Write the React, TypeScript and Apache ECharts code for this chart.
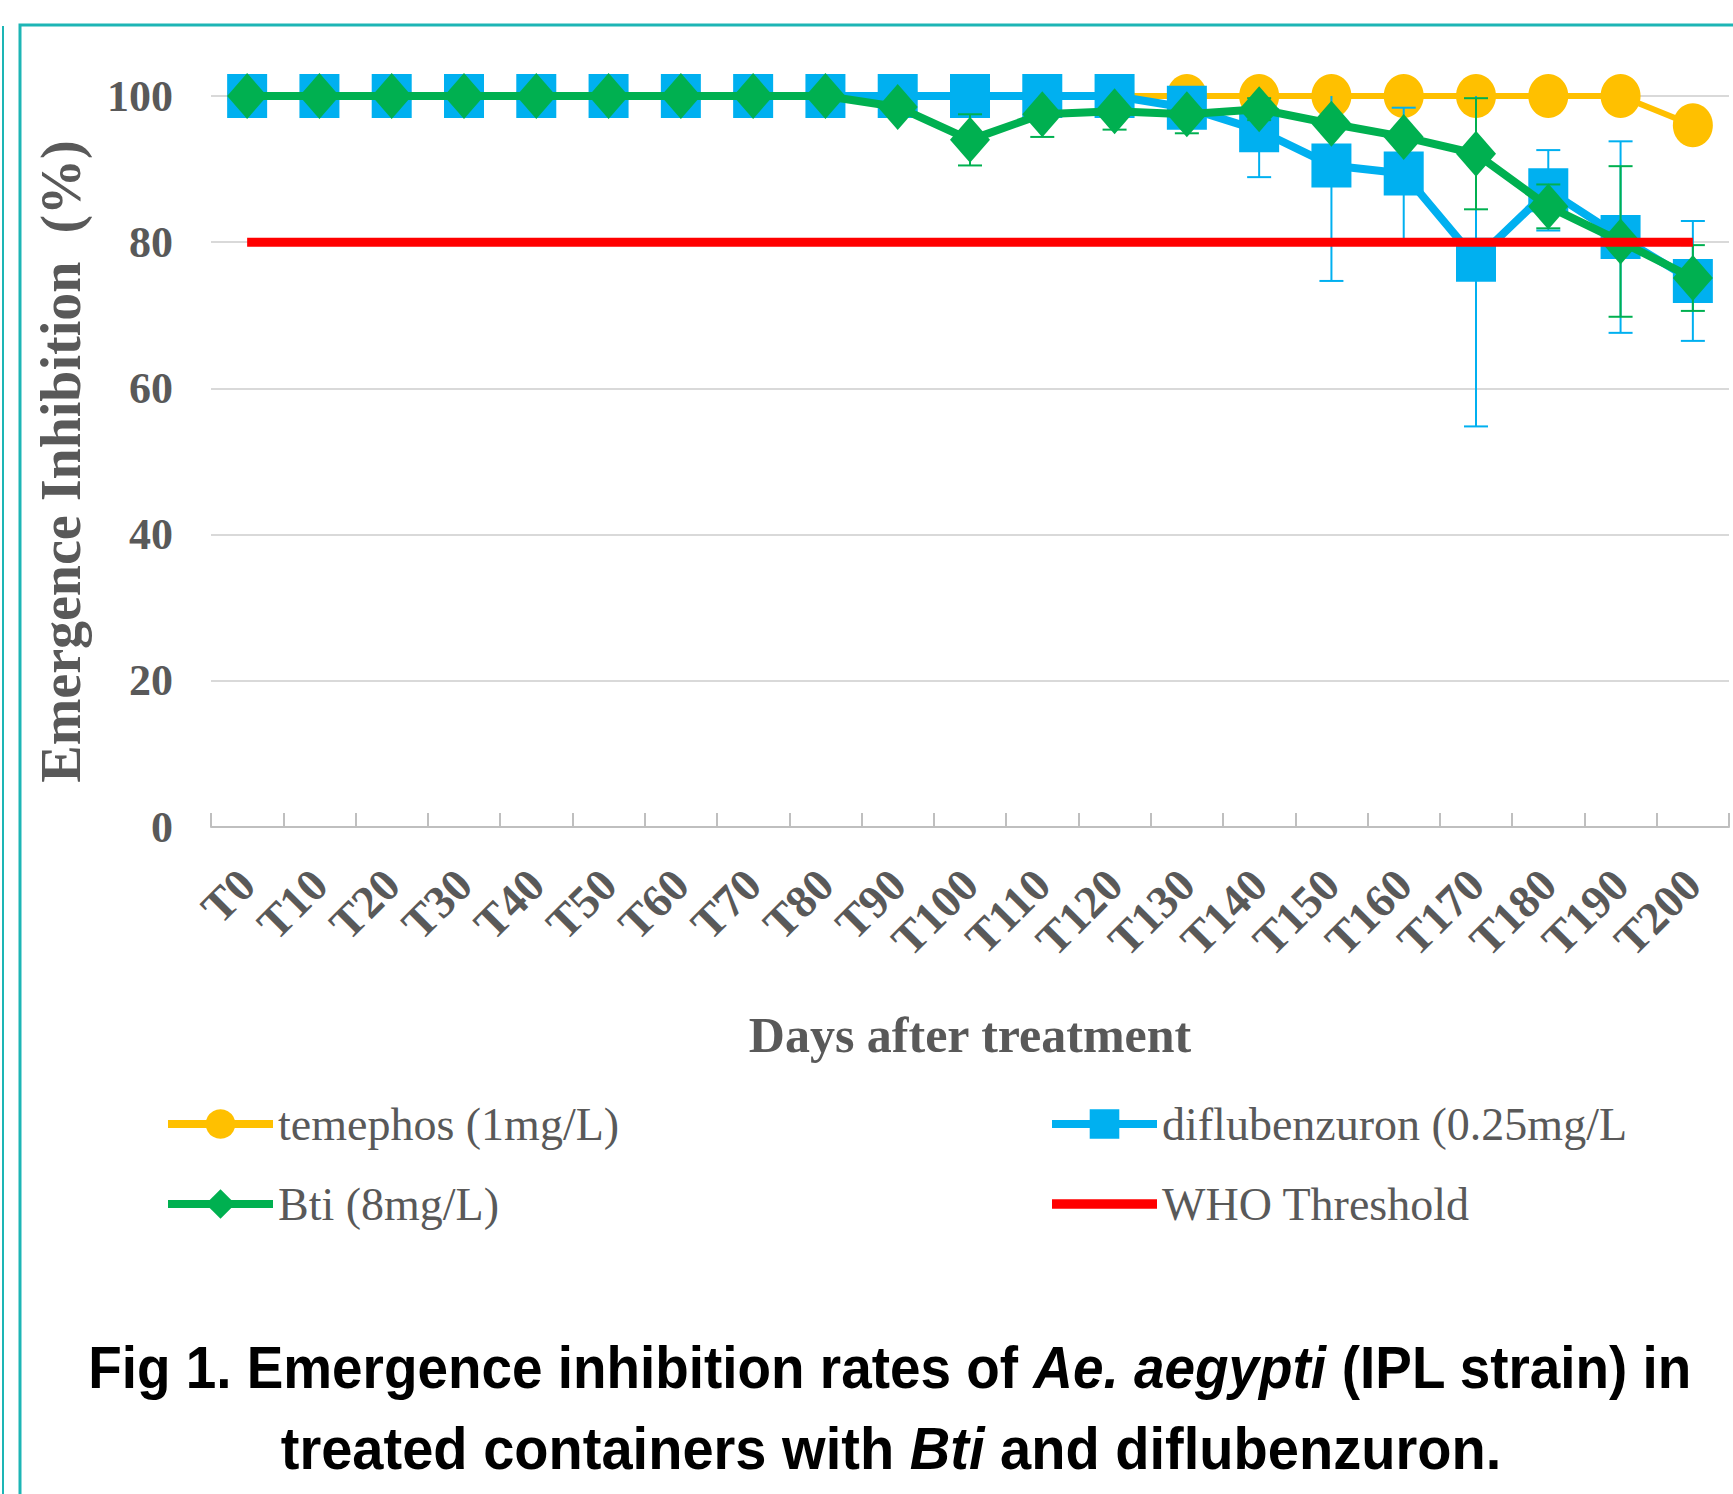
import React, { useEffect, useRef } from 'react';
import * as echarts from 'echarts';

const categories = ['T0', 'T10', 'T20', 'T30', 'T40', 'T50', 'T60', 'T70', 'T80', 'T90', 'T100', 'T110', 'T120', 'T130', 'T140', 'T150', 'T160', 'T170', 'T180', 'T190', 'T200'];
const yTicks = [0, 20, 40, 60, 80, 100];

const temephos = [100, 100, 100, 100, 100, 100, 100, 100, 100, 100, 100, 100, 100, 100, 100, 100, 100, 100, 100, 100, 96];
const diflubenzuron = [100, 100, 100, 100, 100, 100, 100, 100, 100, 100, 100, 100, 100, 98.4, 95.3, 90.5, 89.4, 77.6, 87.1, 80.7, 74.7];
const bti = [100, 100, 100, 100, 100, 100, 100, 100, 100, 98.5, 94.0, 97.5, 97.9, 97.5, 98.2, 96.2, 94.4, 92.1, 84.9, 80.1, 75.1];
const whoThreshold = [80, 80, 80, 80, 80, 80, 80, 80, 80, 80, 80, 80, 80, 80, 80, 80, 80, 80, 80, 80, 80];

const errDiflubenzuron = [0, 0, 0, 0, 0, 0, 0, 0, 0, 0, 0, 0, 0, 0, 6.4, 15.8, 9.0, 22.8, 5.5, 13.1, 8.2];
const errBti = [0, 0, 0, 0, 0, 0, 0, 0, 0, 0, 3.5, 3.1, 2.5, 2.6, 1.5, 0, 0, 7.6, 3.0, 10.3, 4.5];

const NAME_TEM = 'temephos (1mg/L)';
const NAME_DIF = 'diflubenzuron (0.25mg/L';
const NAME_BTI = 'Bti (8mg/L)';
const NAME_WHO = 'WHO Threshold';

const YELLOW = '#FFC000';
const BLUE = '#00B0F0';
const GREEN = '#00B050';
const RED = '#FF0000';
const TEAL = '#1DB5B5';
const GREY_TEXT = '#595959';
const SERIF = "'Liberation Serif', 'Times New Roman', serif";
const TITLE_FONT = "'Liberation Sans', Arial, sans-serif";

function errorBarSeries(values: number[], errs: number[], color: string, z: number) {
  return {
    type: 'custom',
    z,
    silent: true,
    data: values.map((v, i) => [i, v, errs[i]]),
    encode: { x: 0, y: 1 },
    renderItem: (params: any, api: any) => {
      const idx = api.value(0);
      const v = api.value(1);
      const e = api.value(2);
      if (!e) return null;
      const hiVal = Math.min(v + e, 100);
      const loVal = v - e;
      const pTop = api.coord([idx, hiVal]);
      const pBot = api.coord([idx, loVal]);
      const cap = 12;
      const style = { stroke: color, lineWidth: 2 };
      const children: any[] = [
        { type: 'line', shape: { x1: pTop[0], y1: pTop[1], x2: pBot[0], y2: pBot[1] }, style },
        { type: 'line', shape: { x1: pBot[0] - cap, y1: pBot[1], x2: pBot[0] + cap, y2: pBot[1] }, style },
      ];
      if (v + e <= 100) {
        children.push({ type: 'line', shape: { x1: pTop[0] - cap, y1: pTop[1], x2: pTop[0] + cap, y2: pTop[1] }, style });
      }
      return { type: 'group', children };
    },
  };
}

export default function App() {
  const ref = useRef<HTMLDivElement>(null);
  useEffect(() => {
    if (!ref.current) return;
    const chart = echarts.init(ref.current, undefined, { renderer: 'svg' });
    const legendText = { fontFamily: SERIF, fontSize: 46, color: GREY_TEXT };
    const legendCommon = {
      orient: 'vertical',
      top: 1096,
      itemWidth: 105,
      itemHeight: 37,
      itemGap: 44,
      selectedMode: false,
      lineStyle: { width: 8 },
      textStyle: legendText,
    };
    const titleRich = {
      b: { fontFamily: TITLE_FONT, fontWeight: 'bold', fontSize: 59, fill: '#000000' },
      i: { fontFamily: TITLE_FONT, fontWeight: 'bold', fontStyle: 'italic', fontSize: 59, fill: '#000000' },
    };
    const option: any = {
      animation: false,
      backgroundColor: '#ffffff',
      grid: { left: 211, right: 4, top: 96, bottom: 667, containLabel: false, outerBoundsMode: 'none' },
      xAxis: {
        type: 'category',
        data: categories,
        boundaryGap: true,
        axisLine: { lineStyle: { color: '#BFBFBF', width: 2 } },
        axisTick: { show: true, inside: true, length: 14, lineStyle: { color: '#BFBFBF', width: 2 } },
        axisLabel: {
          interval: 0,
          rotate: 45,
          margin: 50,
          fontFamily: SERIF,
          fontWeight: 'bold',
          fontSize: 46,
          color: GREY_TEXT,
        },
        name: 'Days after treatment',
        nameLocation: 'middle',
        nameGap: 183,
        nameTextStyle: { fontFamily: SERIF, fontWeight: 'bold', fontSize: 50, color: GREY_TEXT },
      },
      yAxis: {
        type: 'value',
        min: yTicks[0],
        max: yTicks[yTicks.length - 1],
        interval: 20,
        axisLine: { show: false },
        axisTick: { show: false },
        splitLine: { lineStyle: { color: '#D9D9D9', width: 2 } },
        axisLabel: { margin: 38, fontFamily: SERIF, fontWeight: 'bold', fontSize: 44, color: GREY_TEXT },
        name: 'Emergence Inhibition  (%)',
        nameLocation: 'middle',
        nameGap: 122,
        nameTextStyle: { fontFamily: SERIF, fontWeight: 'bold', fontSize: 56, color: GREY_TEXT },
      },
      legend: [
        { ...legendCommon, data: [NAME_TEM, NAME_BTI], left: 159, itemGap: 34 },
        { ...legendCommon, data: [NAME_DIF, { name: NAME_WHO, icon: 'path://M0,0H100V9H0Z' }], left: 1043, itemGap: 34 },
      ],
      series: [
        {
          name: NAME_TEM,
          type: 'line',
          data: temephos,
          z: 2,
          symbol: 'circle',
          symbolSize: [40, 44],
          itemStyle: { color: YELLOW },
          lineStyle: { color: YELLOW, width: 6 },
        },
        errorBarSeries(diflubenzuron, errDiflubenzuron, BLUE, 3),
        {
          name: NAME_DIF,
          type: 'line',
          data: diflubenzuron,
          z: 4,
          symbol: 'rect',
          symbolSize: [40, 44],
          itemStyle: { color: BLUE },
          lineStyle: { color: BLUE, width: 8 },
        },
        errorBarSeries(bti, errBti, GREEN, 5),
        {
          name: NAME_BTI,
          type: 'line',
          data: bti,
          z: 6,
          symbol: 'diamond',
          symbolSize: [40, 46],
          itemStyle: { color: GREEN },
          lineStyle: { color: GREEN, width: 8 },
        },
        {
          name: NAME_WHO,
          type: 'line',
          data: whoThreshold,
          z: 7,
          symbol: 'none',
          itemStyle: { color: RED },
          lineStyle: { color: RED, width: 9 },
        },
      ],
      graphic: [
        {
          type: 'rect',
          z: 0,
          silent: true,
          shape: { x: 20, y: 25, width: 1740, height: 1500 },
          style: { fill: 'none', stroke: TEAL, lineWidth: 3 },
        },
        {
          type: 'line',
          silent: true,
          shape: { x1: 3, y1: 26, x2: 3, y2: 1494 },
          style: { stroke: TEAL, lineWidth: 2 },
        },
        {
          type: 'text',
          silent: true,
          x: 890,
          y: 1367,
          scaleX: 0.93,
          style: {
            text: '{b|Fig 1. Emergence inhibition rates of }{i|Ae. aegypti}{b| (IPL strain) in}',
            align: 'center',
            verticalAlign: 'middle',
            rich: titleRich,
          },
        },
        {
          type: 'text',
          silent: true,
          x: 891,
          y: 1448,
          scaleX: 0.95,
          style: {
            text: '{b|treated containers with }{i|Bti}{b| and diflubenzuron.}',
            align: 'center',
            verticalAlign: 'middle',
            rich: titleRich,
          },
        },
      ],
    };
    chart.setOption(option);
    return () => chart.dispose();
  }, []);
  return <div ref={ref} style={{ position: 'fixed', left: 0, top: 0, width: 1733, height: 1494 }} />;
}
